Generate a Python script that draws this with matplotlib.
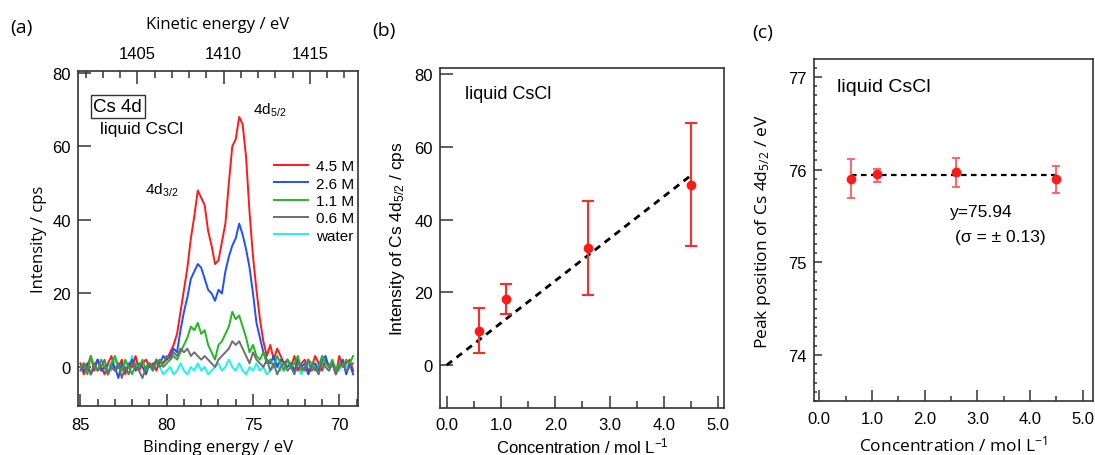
import numpy as np
import matplotlib
matplotlib.use('Agg')
import matplotlib.pyplot as plt
from matplotlib.ticker import MultipleLocator

plt.rcParams['font.family'] = ['Liberation Sans', 'DejaVu Sans']
plt.rcParams['mathtext.default'] = 'regular'

# ---- data -------------------------------------------------------------
# binding energy grid (eV), 0.2 eV steps from 85.0 down to 69.2
be = np.round(np.arange(85.0, 69.1, -0.2), 1)
hv = 1486.7  # Al K-alpha, for kinetic energy axis

int_45 = [1, -2, 0, 3, -1, 2, 0, -2, 1, 3, -1, 0, 2, -2, 1, 0, 3, -1, 1, 2, 0, 1, -1, 2, 1,
          2, 4, 6, 9, 15, 21, 27, 35, 41, 48, 46, 44, 37, 33, 28, 29, 34, 39, 50, 60,
          62, 68, 66, 57, 42, 30, 21, 13, 7, 3, 6, 2, 5, 3, 1, 2,
          0, 3, -1, 1, 2, -1, 0, 3, 1, -1, 2, 0, 1, -2, 3, 0, 1, 2, -1]
int_26 = [0, -1, 1, -2, 0, 2, -1, 0, -2, 1, 0, -3, 1, -1, 0, 2, -1, 1, 0, -2, 1, 0, 2, 1, 3,
          2, 3, 5, 4, 10, 15, 19, 24, 26, 28, 27, 24, 21, 20, 18, 21, 20, 26, 30, 33,
          35, 39, 36, 32, 27, 20, 12, 8, 4, 2, 1, 3, 0, 2, 1, 0,
          1, -1, 2, 0, 1, -2, 0, 1, -1, 2, 3, 0, 1, -1, 0, 2, -2, 1, -2]
int_11 = [0, 1, -2, 3, 0, -1, 2, 0, -2, 1, 3, 0, -1, 2, 0, -2, 1, 0, 2, -1, 1, 0, 1, 2, 0,
          1, 2, 3, 2, 4, 6, 8, 11, 10, 12, 9, 10, 6, 4, 2, 6, 7, 9, 11, 15,
          13, 14, 11, 8, 4, 6, 3, 2, 4, 1, 2,
          0, 3, 1, -1, 2, 0, 1, 3, -1, 0, 2, 1, -1, 0, 3, 1, 0, 2, -1, 1, 0, 2, 1, 3]
int_06 = [-1, 1, 0, -2, 1, -1, 0, 2, -2, 0, -1, 1, -3, 0, -2, 1, 0, -1, -3, 0, 1, -1, 2, 0, 1,
          3, 2, 4, 3, 5, 4, 5, 3, 4, 3, 2, 3, 2, 1, 0, 2, 3, 4, 5, 7,
          6, 7, 5, 3, 1, 4, 2, 1, 0, 2, -1,
          1, -2, 0, 1, -1, 0, -2, 1, 0, -1, 2, -1, 0, -2, 1, 0, -1, 1, -2, 0, 1, -1, 0, 1]
int_water = [0, -1, 1, -2, 0, 2, -1, 0, 1, -1, 2, 0, -1, 1, 0, 3, -1, 0, 1, 2, 0, -1, 1, 0, -2,
             -1, 0, -2, -1, 1, -1, -2, 0, -1, 1, -1, 0, -2, -1, 0, 1, -1, 0, 2, 0,
             -1, 1, -1, -2, 0, -1, 1, -1, 0, -2, -1, 0, 1, -1, 0, 2, 1, -1, 0, -2,
             0, 1, -1, 0, 1, 2, 0, -1, 1, 0, -1, 2, 0, 1, -1]

spec_labels = ['4.5 M', '2.6 M', '1.1 M', '0.6 M', 'water']
spec_colors = ['#ff1a1a', '#1f4fff', '#22b822', '#6e6e6e', '#1ef2f2']

# panel b: intensity of Cs 4d5/2 vs concentration
conc = [0.6, 1.1, 2.6, 4.5]
inten = [9.5, 18.1, 32.1, 49.6]
inten_lo = [6.2, 4.0, 12.7, 16.8]
inten_hi = [6.1, 4.1, 12.9, 16.9]
fit_x = [0.0, 4.5]
fit_y = [0.0, 52.2]

# panel c: peak position vs concentration
peak = [75.90, 75.95, 75.97, 75.90]
peak_lo = [0.21, 0.08, 0.16, 0.15]
peak_hi = [0.21, 0.06, 0.15, 0.14]
mean_peak = 75.94

label_font = ['Open Sans', 'DejaVu Sans']

fig = plt.figure(figsize=(10.95, 4.56), dpi=100)


def style_ticks(ax, major_len=8, minor_len=4):
    ax.tick_params(which='both', direction='in', colors='#333333', labelcolor='black',
                   labelsize=12)
    ax.tick_params(which='major', length=major_len, width=1.1)
    ax.tick_params(which='minor', length=minor_len, width=1.1)
    for sp in ax.spines.values():
        sp.set_color('#333333')
        sp.set_linewidth(1.2)


# ---- (a) spectra --------------------------------------------------------
axa = fig.add_axes([0.0712, 0.1075, 0.2557, 0.7346])
series = [int_45, int_26, int_11, int_06, int_water]
zorders = [3, 3, 3, 3, 2]
for vals, lab, col, z in zip(series, spec_labels, spec_colors, zorders):
    axa.plot(be, vals, color=col, lw=1.4, label=lab, zorder=z)
axa.set_xlim(85.14, 68.92)
axa.set_ylim(-10.6, 80.5)
axa.xaxis.set_major_locator(MultipleLocator(5))
axa.xaxis.set_minor_locator(MultipleLocator(1))
axa.yaxis.set_major_locator(MultipleLocator(20))
style_ticks(axa, 9, 5)
axa.tick_params(axis='x', pad=8)
axa.tick_params(axis='y', pad=5)
axa.set_xlabel('Binding energy / eV', fontsize=12, family=label_font, labelpad=5)
axa.set_ylabel('Intensity / cps', fontsize=12, family=label_font, labelpad=4)

top = axa.secondary_xaxis('top', functions=(lambda x: hv - x, lambda x: hv - x))
top.xaxis.set_major_locator(MultipleLocator(5))
top.xaxis.set_minor_locator(MultipleLocator(1))
top.tick_params(which='both', direction='in', colors='#333333', labelcolor='black',
                labelsize=12, pad=7)
top.tick_params(which='major', length=9, width=1.1)
top.tick_params(which='minor', length=5, width=1.1)
top.spines['top'].set_visible(False)
top.set_xlabel('Kinetic energy / eV', fontsize=12, family=label_font, labelpad=13)

axa.text(84.25, 70.8, 'Cs 4d', fontsize=13.5, va='center', ha='left',
         bbox=dict(boxstyle='square,pad=0.15', fc='white', ec='#333333', lw=1.0))
axa.text(83.84, 64.8, 'liquid CsCl', fontsize=12.5, va='center', ha='left')
axa.text(81.24, 48.4, '4d$_{3/2}$', fontsize=11, va='center', ha='left')
axa.text(74.98, 70.2, '4d$_{5/2}$', fontsize=11, va='center', ha='left')
axa.legend(loc='upper left', bbox_to_anchor=(0.68, 0.755), frameon=False, fontsize=11,
           handlelength=2.2, handletextpad=0.5, labelspacing=0.22, borderaxespad=0)

# ---- (b) intensity vs concentration ------------------------------------
axb = fig.add_axes([0.4018, 0.1037, 0.2596, 0.745])
axb.plot(fit_x, fit_y, ls=(0, (2.5, 2)), color='black', lw=2.0, zorder=2)
axb.errorbar(conc, inten, yerr=[inten_lo, inten_hi], fmt='o', color='#ff1a1a',
             ms=6, ecolor='#ff2a2a', elinewidth=1.5, capsize=4, capthick=1.5, zorder=3)
axb.set_xlim(-0.123, 5.11)
axb.set_ylim(-11.7, 81.7)
axb.xaxis.set_minor_locator(MultipleLocator(0.5))
axb.yaxis.set_major_locator(MultipleLocator(20))
axb.set_xticks([0, 1, 2, 3, 4, 5])
axb.set_xticklabels(['0.0', '1.0', '2.0', '3.0', '4.0', '5.0'])
style_ticks(axb, 9, 5)
axb.tick_params(axis='x', pad=7)
axb.tick_params(axis='y', pad=5)
axb.set_xlabel('Concentration / mol L$^{-1}$', fontsize=12, labelpad=2)
axb.set_ylabel('Intensity of Cs 4d$_{5/2}$ / cps', fontsize=12.5, labelpad=5)
axb.text(0.34, 74.8, 'liquid CsCl', fontsize=13, va='center', ha='left')

# ---- (c) peak position vs concentration --------------------------------
axc = fig.add_axes([0.7434, 0.1178, 0.2545, 0.75])
axc.plot([conc[0], conc[-1]], [mean_peak, mean_peak], ls=(0, (2.5, 2)), color='black',
         lw=1.6, zorder=2)
axc.errorbar(conc, peak, yerr=[peak_lo, peak_hi], fmt='o', color='#ff1a1a', ms=6,
             ecolor='#ff5a5a', elinewidth=1.3, capsize=3, capthick=1.3, zorder=3)
axc.set_xlim(-0.10, 5.19)
axc.set_ylim(73.50, 77.19)
axc.xaxis.set_minor_locator(MultipleLocator(0.5))
axc.yaxis.set_major_locator(MultipleLocator(1))
axc.yaxis.set_minor_locator(MultipleLocator(0.1))
axc.set_xticks([0, 1, 2, 3, 4, 5])
axc.set_xticklabels(['0.0', '1.0', '2.0', '3.0', '4.0', '5.0'])
style_ticks(axc, 8, 3.5)
axc.tick_params(axis='y', which='major', length=6)
axc.tick_params(axis='y', which='minor', length=2.5)
axc.tick_params(axis='x', pad=7)
axc.tick_params(axis='y', pad=5)
axc.set_xlabel('Concentration / mol L$^{-1}$', fontsize=12.5, family=label_font, labelpad=6)
axc.set_ylabel('Peak position of Cs 4d$_{5/2}$ / eV', fontsize=12.5, family=label_font,
               labelpad=11)
axc.text(0.33, 76.90, 'liquid CsCl', fontsize=14, va='center', ha='left')
axc.text(2.47, 75.55, 'y=75.94', fontsize=12.5, va='center', ha='left')
axc.text(2.58, 75.28, '(σ = ± 0.13)', fontsize=12.5, va='center', ha='left')

# panel letters
fig.text(0.009, 0.938, '(a)', fontsize=14, family=label_font, va='center')
fig.text(0.340, 0.932, '(b)', fontsize=14, family=label_font, va='center')
fig.text(0.687, 0.928, '(c)', fontsize=14, family=label_font, va='center')

fig.savefig('out.png', dpi=100)
